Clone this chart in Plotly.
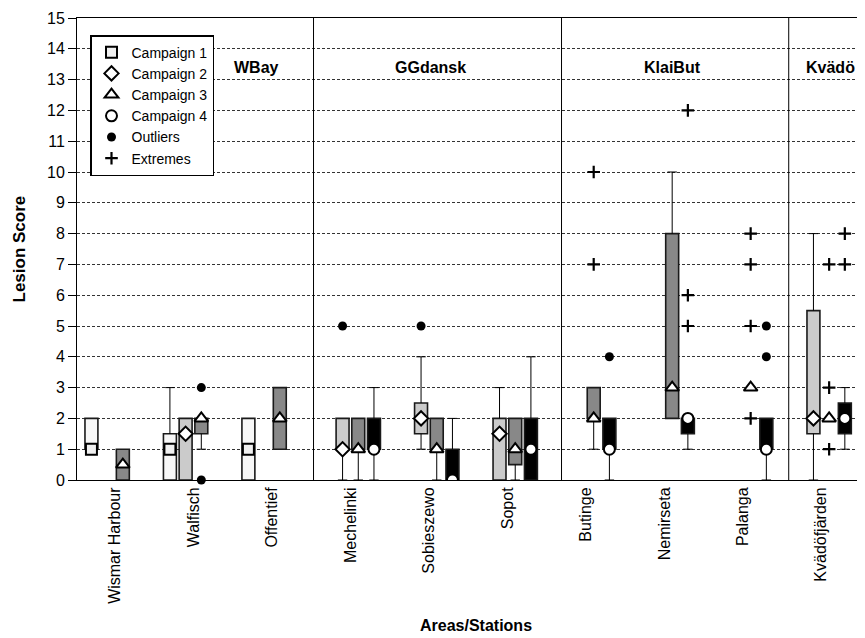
import plotly.graph_objects as go

# ---------------- data ----------------
stations = ["Wismar Harbour", "Walfisch", "Offentief", "Mechelinki", "Sobieszewo",
            "Sopot", "Butinge", "Nemirseta", "Palanga", "Kvädöfjärden"]
areas = ["WBay", "GGdansk", "KlaiBut", "Kvädö"]
campaigns = ["Campaign 1", "Campaign 2", "Campaign 3", "Campaign 4"]
N = None

# Campaign 1
c1_q1 = [1, 0, 0, N, N, N, N, N, N, N]
c1_q3 = [2, 1.5, 2, N, N, N, N, N, N, N]
c1_med = [1, 1, 1, N, N, N, N, N, N, N]
c1_wlo = [N, N, N, N, N, N, N, N, N, N]
c1_whi = [N, 3, N, N, N, N, N, N, N, N]

# Campaign 2
c2_q1 = [N, 0, N, 1, 1.5, 0, N, N, N, 1.5]
c2_q3 = [N, 2, N, 2, 2.5, 2, N, N, N, 5.5]
c2_med = [N, 1.5, N, 1, 2, 1.5, N, N, N, 2]
c2_wlo = [N, N, N, 0, 1, N, N, N, N, 0]
c2_whi = [N, N, N, N, 4, 3, N, N, N, 8]

# Campaign 3
c3_q1 = [0, 1.5, 1, 1, 1, 0.5, 2, 2, 3, 2]
c3_q3 = [1, 2, 3, 2, 2, 2, 3, 8, 3, 2]
c3_med = [0.5, 2, 2, 1, 1, 1, 2, 3, 3, 2]
c3_wlo = [N, 1, N, 0, 0, 0, 1, N, N, N]
c3_whi = [N, N, N, N, N, N, N, 10, N, N]

# Campaign 4
c4_q1 = [N, N, N, 1, 0, 0, 1, 1.5, 1, 1.5]
c4_q3 = [N, N, N, 2, 1, 2, 2, 2, 2, 2.5]
c4_med = [N, N, N, 1, 0, 1, 1, 2, 1, 2]
c4_wlo = [N, N, N, 0, N, N, 0, 1, 0, 1]
c4_whi = [N, N, N, 3, 2, 4, N, N, N, 3]

# Outliers (station index, campaign number, value)
outlier_station = [1, 1, 3, 4, 6, 8, 8]
outlier_campaign = [3, 3, 2, 2, 4, 4, 4]
outlier_value = [3, 0, 5, 5, 4, 5, 4]

# Extremes (station index, campaign number, value)
extreme_station = [6, 6, 7, 7, 7, 8, 8, 8, 8, 9, 9, 9, 9, 9]
extreme_campaign = [3, 3, 4, 4, 4, 3, 3, 3, 3, 3, 3, 3, 4, 4]
extreme_value = [10, 7, 12, 6, 5, 8, 7, 5, 2, 7, 3, 1, 8, 7]

y_ticks = list(range(0, 16))

# ---------------- styling / layout constants ----------------
FONT = "Liberation Sans, Arial, Helvetica, sans-serif"
slot = 0.2
offsets = [-1.5 * slot, -0.5 * slot, 0.5 * slot, 1.5 * slot]
box_w = 0.165
cap_hw = 0.06
box_fill = ["#f7f7f7", "#cbcbcb", "#888888", "#000000"]
med_symbol = ["square", "diamond", "triangle-up", "circle"]
med_size = [11, 11, 12, 11]
med_fill = ["#f0f0f0", "#ffffff", "#ffffff", "#ffffff"]
divider_x = [2.53, 5.69, 8.585]
area_label_x = [1.8, 4.02, 7.11, 9.12]
area_label_y = 13.4

data = [
    (c1_q1, c1_q3, c1_med, c1_wlo, c1_whi),
    (c2_q1, c2_q3, c2_med, c2_wlo, c2_whi),
    (c3_q1, c3_q3, c3_med, c3_wlo, c3_whi),
    (c4_q1, c4_q3, c4_med, c4_wlo, c4_whi),
]

fig = go.Figure()

# boxes (bars from Q1 to Q3)
for c, (q1, q3, med, wlo, whi) in enumerate(data):
    xs, bases, heights = [], [], []
    for i in range(len(stations)):
        if q1[i] is None or q3[i] is None or q3[i] == q1[i]:
            continue
        xs.append(i + offsets[c])
        bases.append(q1[i])
        heights.append(q3[i] - q1[i])
    fig.add_trace(go.Bar(
        x=xs, y=heights, base=bases, width=box_w,
        marker=dict(color=box_fill[c], line=dict(color="#1a1a1a", width=1.6)),
        showlegend=False, hoverinfo="skip",
    ))

# whiskers with caps
for c, (q1, q3, med, wlo, whi) in enumerate(data):
    wx, wy = [], []
    for i in range(len(stations)):
        xc = i + offsets[c]
        if whi[i] is not None:
            wx += [xc, xc, None, xc - cap_hw, xc + cap_hw, None]
            wy += [q3[i], whi[i], None, whi[i], whi[i], None]
        if wlo[i] is not None:
            wx += [xc, xc, None, xc - cap_hw, xc + cap_hw, None]
            wy += [q1[i], wlo[i], None, wlo[i], wlo[i], None]
    fig.add_trace(go.Scatter(
        x=wx, y=wy, mode="lines", line=dict(color="#000000", width=1),
        showlegend=False, hoverinfo="skip",
    ))

# median markers (legend entries for campaigns)
for c, (q1, q3, med, wlo, whi) in enumerate(data):
    xs = [i + offsets[c] for i in range(len(stations)) if med[i] is not None]
    ys = [m for m in med if m is not None]
    fig.add_trace(go.Scatter(
        x=xs, y=ys, mode="markers", name=campaigns[c],
        marker=dict(symbol=med_symbol[c], size=med_size[c], color=med_fill[c],
                    line=dict(color="#000000", width=2)),
    ))

# outliers
fig.add_trace(go.Scatter(
    x=[s + offsets[c - 1] for s, c in zip(outlier_station, outlier_campaign)],
    y=outlier_value, mode="markers", name="Outliers", cliponaxis=False,
    marker=dict(symbol="circle", size=9, color="#000000"),
))

# extremes
fig.add_trace(go.Scatter(
    x=[s + offsets[c - 1] for s, c in zip(extreme_station, extreme_campaign)],
    y=extreme_value, mode="markers", name="Extremes",
    marker=dict(symbol="cross-thin", size=9, color="#000000",
                line=dict(color="#000000", width=2.2)),
))

# area dividers
for xd in divider_x:
    fig.add_shape(type="line", xref="x", yref="y", x0=xd, x1=xd, y0=0, y1=15,
                  line=dict(color="#000000", width=1))

annotations = []
for name, xa in zip(areas, area_label_x):
    annotations.append(dict(x=xa, y=area_label_y, xref="x", yref="y", text="<b>%s</b>" % name,
                            showarrow=False, font=dict(family=FONT, size=16, color="#000")))
annotations.append(dict(x=-0.073, y=0.5, xref="paper", yref="paper", text="<b>Lesion Score</b>",
                        textangle=-90, showarrow=False, xanchor="center", yanchor="middle",
                        font=dict(family=FONT, size=17, color="#000")))
annotations.append(dict(x=0.506, y=-0.316, xref="paper", yref="paper", text="<b>Areas/Stations</b>",
                        showarrow=False, xanchor="center", yanchor="middle",
                        font=dict(family=FONT, size=16, color="#000")))

# the page body adds an 8px offset, so the figure is sized to fit inside the window
fig.update_layout(
    width=857, height=630,
    margin=dict(l=69, r=0, t=10, b=158, autoexpand=False),
    paper_bgcolor="white", plot_bgcolor="white",
    barmode="overlay",
    font=dict(family=FONT, size=15, color="#000"),
    annotations=annotations,
    legend=dict(x=0.0165, y=0.963, xanchor="left", yanchor="top",
                bgcolor="white", bordercolor="#000", borderwidth=1.5,
                font=dict(family=FONT, size=14, color="#000"),
                tracegroupgap=0, itemwidth=30),
    xaxis=dict(range=[-0.484, 9.557], tickmode="array", automargin=False,
               tickvals=list(range(len(stations))), ticktext=stations,
               tickangle=-90, tickfont=dict(family=FONT, size=16, color="#000"),
               showgrid=False, zeroline=False, showline=True, linecolor="#000",
               linewidth=1, mirror=True, ticks=""),
    yaxis=dict(range=[0, 15], tickmode="array", tickvals=y_ticks, automargin=False,
               tickfont=dict(family=FONT, size=16, color="#000"),
               showgrid=True, gridcolor="#333333", gridwidth=1, griddash="3px,2px",
               zeroline=False, showline=True, linecolor="#000", linewidth=1,
               ticks="outside", ticklen=8, tickcolor="#000"),
)

fig.write_html("out.html")
